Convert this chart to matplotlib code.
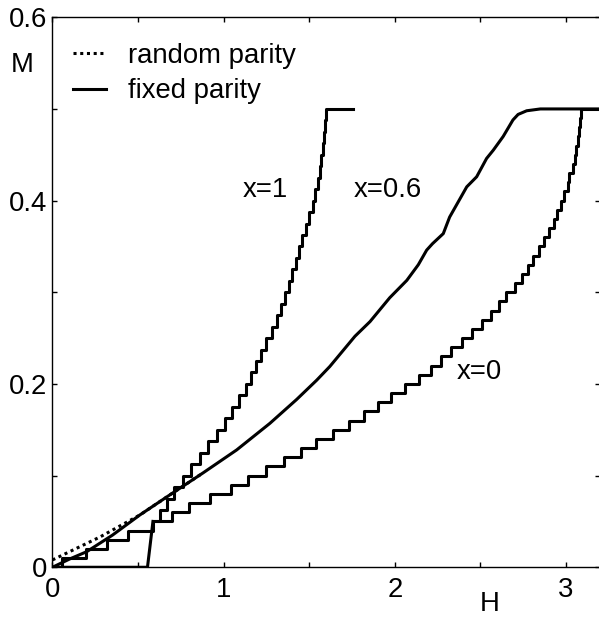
import numpy as np
import matplotlib.pyplot as plt

plt.rcParams['font.family'] = ['Liberation Sans', 'DejaVu Sans']

# x=0 fixed parity: field H where M jumps to the next level
h_x0 = [0, 0.055, 0.195, 0.32, 0.44, 0.59, 0.70, 0.80, 0.92, 1.04, 1.14,
        1.25, 1.35, 1.45, 1.54, 1.64, 1.73, 1.82, 1.90, 1.98, 2.06,
        2.14, 2.21, 2.27, 2.33, 2.39, 2.45, 2.51, 2.56, 2.61, 2.65,
        2.70, 2.74, 2.78, 2.81, 2.84, 2.87, 2.90, 2.93, 2.95, 2.97,
        2.99, 3.01, 3.02, 3.04, 3.05, 3.06, 3.07, 3.075, 3.08, 3.085, 3.2]
m_x0 = [0, 0.01, 0.02, 0.03, 0.04, 0.05, 0.06, 0.07, 0.08, 0.09, 0.10,
        0.11, 0.12, 0.13, 0.14, 0.15, 0.16, 0.17, 0.18, 0.19, 0.20,
        0.21, 0.22, 0.23, 0.24, 0.25, 0.26, 0.27, 0.28, 0.29, 0.30,
        0.31, 0.32, 0.33, 0.34, 0.35, 0.36, 0.37, 0.38, 0.39, 0.40,
        0.41, 0.42, 0.43, 0.44, 0.45, 0.46, 0.47, 0.48, 0.49, 0.50, 0.50]

# x=1 fixed parity: flat, a steep ramp, then a staircase
h_x1_ramp = [0, 0.555, 0.587]
m_x1_ramp = [0, 0, 0.05]
h_x1 = [0.587, 0.63, 0.67, 0.71, 0.76, 0.81, 0.86, 0.91, 0.96, 1.01, 1.05,
        1.09, 1.13, 1.16, 1.19, 1.22, 1.25, 1.28, 1.31, 1.335, 1.36,
        1.38, 1.40, 1.42, 1.44, 1.46, 1.48, 1.50, 1.52, 1.535, 1.55,
        1.56, 1.57, 1.58, 1.585, 1.59, 1.595, 1.755]
m_x1 = [0.05, 0.0625, 0.075, 0.0875, 0.10, 0.1125, 0.125, 0.1375, 0.15,
        0.1625, 0.175, 0.1875, 0.20, 0.2125, 0.225, 0.2375, 0.25, 0.2625,
        0.275, 0.2875, 0.30, 0.3125, 0.325, 0.3375, 0.35, 0.3625, 0.375,
        0.3875, 0.40, 0.4125, 0.425, 0.4375, 0.45, 0.4625, 0.475, 0.4875,
        0.50, 0.50]

# x=0.6 fixed parity
h_x06 = [0, 0.1, 0.2, 0.35, 0.51, 0.686, 0.88, 1.076, 1.27, 1.426, 1.543,
         1.62, 1.767, 1.855, 1.97, 2.07, 2.137, 2.186, 2.22, 2.283, 2.32,
         2.42, 2.478, 2.536, 2.575, 2.633, 2.69, 2.72, 2.77, 2.85, 3.2]
m_x06 = [0, 0.009, 0.017, 0.035, 0.057, 0.079, 0.103, 0.128, 0.157, 0.183,
         0.204, 0.219, 0.252, 0.268, 0.294, 0.313, 0.33, 0.346, 0.353, 0.364,
         0.382, 0.415, 0.426, 0.446, 0.455, 0.47, 0.488, 0.494, 0.498, 0.5, 0.5]

# x=0.6 random parity (only differs near the origin)
h_x06_rand = [0, 0.277, 0.51, 0.686, 0.88]
m_x06_rand = [0.008, 0.033, 0.057, 0.079, 0.103]

fig = plt.figure(figsize=(5.99, 6.17), dpi=100)
ax = fig.add_axes([0.0876, 0.0806, 0.9145, 0.8914])

lw = 2.2
fs = 19.8
ax.plot(h_x06_rand, m_x06_rand, color='black', lw=lw, linestyle=(0, (1, 1.2)),
        label='random parity')
ax.plot(h_x06, m_x06, color='black', lw=lw, label='fixed parity')
ax.plot(h_x0, m_x0, color='black', lw=lw, drawstyle='steps-post')
ax.plot(h_x1_ramp, m_x1_ramp, color='black', lw=lw)
ax.plot(h_x1, m_x1, color='black', lw=lw, drawstyle='steps-post')

ax.text(1.113, 0.404, 'x=1', fontsize=fs, ha='left', va='baseline')
ax.text(1.761, 0.404, 'x=0.6', fontsize=fs, ha='left', va='baseline')
ax.text(2.363, 0.205, 'x=0', fontsize=fs, ha='left', va='baseline')

ax.set_xlim(0, 3.2)
ax.set_ylim(0, 0.6)
ax.set_xticks([0, 1, 2, 3])
ax.set_xticks([0.5, 1.5, 2.5], minor=True)
ax.set_yticks([0, 0.2, 0.4, 0.6])
ax.set_yticklabels(['0', '0.2', '0.4', '0.6'])
ax.set_yticks([0.1, 0.3, 0.5], minor=True)
ax.tick_params(which='both', direction='in', top=True, right=True,
               length=3.6, width=1, labelsize=fs)
ax.tick_params(axis='x', pad=7)
ax.tick_params(axis='y', pad=3.5)
for s in ax.spines.values():
    s.set_linewidth(1)

ax.set_ylabel('M', fontsize=fs, rotation=0, va='center', ha='center')
ax.yaxis.set_label_coords(-0.0557, 0.913)
ax.set_xlabel('H', fontsize=fs, va='center', ha='center')
ax.xaxis.set_label_coords(0.7987, -0.0667)

ax.legend(loc='upper left', bbox_to_anchor=(0.0073, 0.984), frameon=False,
          fontsize=fs, handlelength=1.2, handletextpad=0.8, labelspacing=0.35,
          borderaxespad=0.3, borderpad=0.3)

fig.savefig('out.png', dpi=100)
